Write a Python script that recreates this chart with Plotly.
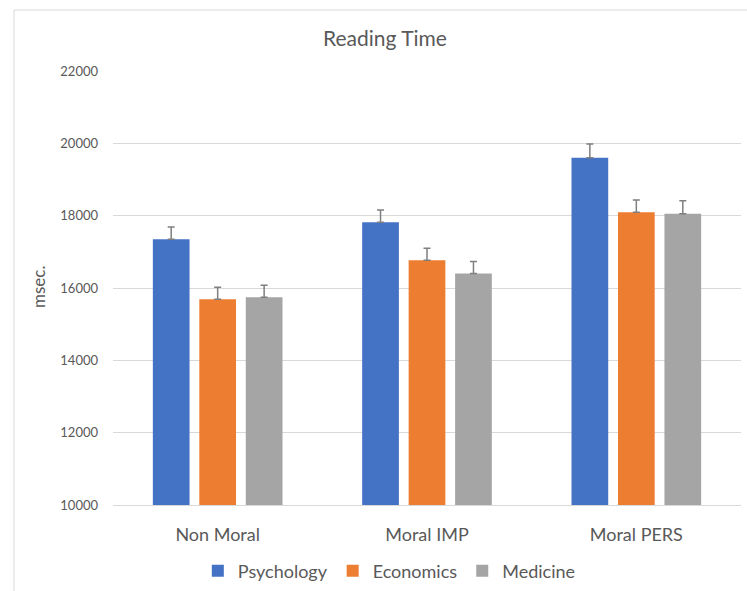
import plotly.graph_objects as go

categories = ["Non Moral", "Moral IMP", "Moral PERS"]
psychology = [17350, 17820, 19600]
economics = [15690, 16770, 18095]
medicine = [15745, 16400, 18050]
psychology_err = [340, 340, 380]
economics_err = [330, 330, 340]
medicine_err = [330, 330, 360]
series_names = ["Psychology", "Economics", "Medicine"]
colors = ["#4472C4", "#ED7D31", "#A5A5A5"]
y_ticks = [10000, 12000, 14000, 16000, 18000, 20000, 22000]

FONT = "Lato"
TXT = "#595959"

fig = go.Figure()
for name, vals, errs, col in zip(series_names, [psychology, economics, medicine],
                                 [psychology_err, economics_err, medicine_err], colors):
    fig.add_trace(go.Bar(
        name=name, x=categories, y=vals, marker_color=col,
        marker_line_width=0,
        error_y=dict(type="data", symmetric=False, array=errs,
                     arrayminus=[0] * len(errs), color="#7f7f7f",
                     thickness=1.5, width=3.5),
    ))

fig.update_layout(
    width=747, height=591,
    margin=dict(l=113, r=6, t=71, b=86),
    paper_bgcolor="white", plot_bgcolor="white",
    barmode="group", bargap=0.334, bargroupgap=0.21,
    font=dict(family=FONT, color=TXT),
    title=dict(text="Reading Time", x=(385 - 113) / 628, xanchor="center", xref="paper",
               y=1 - 39 / 591, yanchor="middle",
               font=dict(size=21, color=TXT, family=FONT)),
    showlegend=True,
    legend=dict(orientation="h", x=0.44, xanchor="center",
                yref="container", y=1 - 571 / 591, yanchor="middle",
                font=dict(size=18, color=TXT, family=FONT),
                itemclick=False, traceorder="normal", itemwidth=30,
                tracegroupgap=0),
    xaxis=dict(showgrid=False, showline=True, linecolor="#d9d9d9", linewidth=1,
               ticks="", tickfont=dict(size=18, color=TXT, family=FONT),
               ticklabelstandoff=13, automargin=False),
    yaxis=dict(range=[10000, 22000], tickvals=y_ticks, showgrid=True,
               gridcolor="#d9d9d9", gridwidth=1, zeroline=False, showline=False,
               ticks="", tickfont=dict(size=13, color=TXT, family=FONT),
               ticklabelstandoff=14, tickformat="d", automargin=False),
    shapes=[dict(type="rect", xref="paper", yref="paper",
                 x0=-0.1576, x1=1.5, y0=-0.8, y1=1.1406,
                 line=dict(color="#d9d9d9", width=1), layer="below")],
    annotations=[dict(text="msec.", xref="paper", yref="paper",
                      x=(38 - 113) / 628, y=(505 - 287) / 434, textangle=-90,
                      showarrow=False, xanchor="center", yanchor="middle",
                      font=dict(size=17, color=TXT, family=FONT))],
)

fig.write_html("out.html", config={"displayModeBar": False},
               post_script="document.body.style.margin='0';")
